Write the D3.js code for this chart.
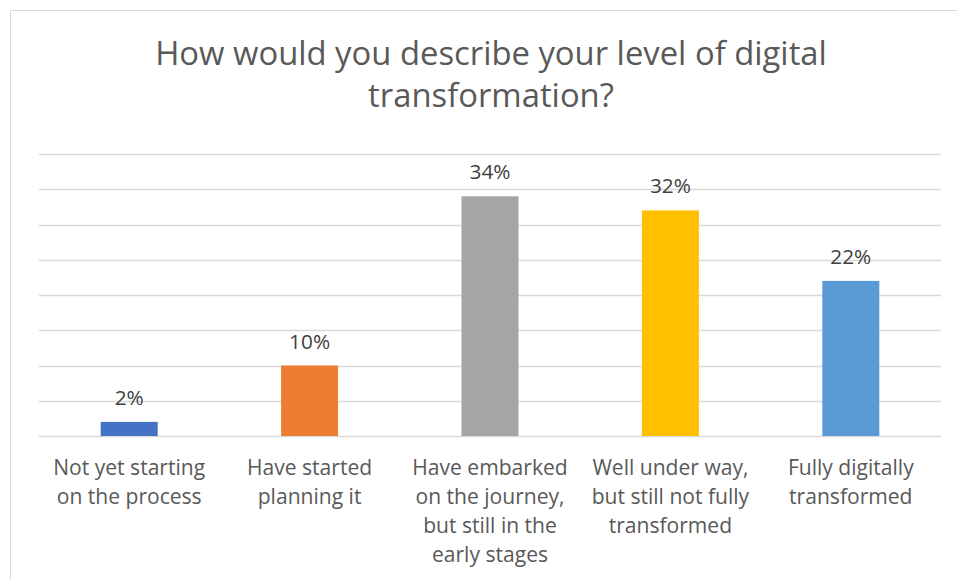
<!DOCTYPE html>
<html>
<head>
<meta charset="utf-8">
<script src="https://cdn.jsdelivr.net/npm/d3@7"></script>
<style>
  html, body { margin: 0; padding: 0; background: #fff; }
  svg { display: block; }
  text { font-family: "Open Sans", "Noto Sans", sans-serif; }
</style>
</head>
<body>
<svg id="chart" width="957" height="579"></svg>
<script>
// Survey responses: share of respondents per stage of digital transformation
const titleLines = ["How would you describe your level of digital", "transformation?"];
const categories = [
  ["Not yet starting", "on the process"],
  ["Have started", "planning it"],
  ["Have embarked", "on the journey,", "but still in the", "early stages"],
  ["Well under way,", "but still not fully", "transformed"],
  ["Fully digitally", "transformed"]
];
const values = [2, 10, 34, 32, 22];
const barColors = ["#4472C4", "#ED7D31", "#A5A5A5", "#FFC000", "#5B9BD5"];
const yTicks = [0, 5, 10, 15, 20, 25, 30, 35, 40];

const W = 957, H = 579;
const svg = d3.select("#chart");

// chart frame (runs past the right and bottom edges of the view)
svg.append("rect")
  .attr("x", 10.5).attr("y", 10.5)
  .attr("width", 1000).attr("height", 700)
  .attr("fill", "#fff").attr("stroke", "#d9d9d9").attr("stroke-width", 1);

const plot = { left: 39, right: 941, top: 154, bottom: 436 };

const x = d3.scaleBand()
  .domain(d3.range(values.length))
  .range([plot.left, plot.right])
  .paddingInner(0.684).paddingOuter(0.342);

const y = d3.scaleLinear().domain([0, 40]).range([plot.bottom, plot.top]);

// size a font so a reference string spans the wanted width
function fitSize(text, width, base) {
  const t = svg.append("text").attr("font-size", base).text(text);
  const w = t.node().getComputedTextLength();
  t.remove();
  return base * width / w;
}
const titleSize = fitSize(titleLines[0], 672, 30);
const catSize = fitSize(categories[0][0], 152, 19);
const valSize = fitSize("32%", 41, 19);

// gridlines
svg.append("g")
  .selectAll("line").data(yTicks).join("line")
  .attr("x1", plot.left).attr("x2", plot.right)
  .attr("y1", d => Math.round(y(d)) + 0.5).attr("y2", d => Math.round(y(d)) + 0.5)
  .attr("stroke", "#d9d9d9").attr("stroke-width", 1.4);

// bars
svg.append("g")
  .selectAll("rect").data(values).join("rect")
  .attr("x", (d, i) => x(i))
  .attr("width", x.bandwidth())
  .attr("y", d => y(d))
  .attr("height", d => y(0) - y(d))
  .attr("fill", (d, i) => barColors[i]);

// value labels
svg.append("g")
  .selectAll("text").data(values).join("text")
  .attr("x", (d, i) => x(i) + x.bandwidth() / 2)
  .attr("y", d => y(d) - 17)
  .attr("text-anchor", "middle")
  .attr("font-size", valSize)
  .attr("fill", "#404040")
  .text(d => d + "%");

// category labels
const catG = svg.append("g")
  .selectAll("text").data(categories).join("text")
  .attr("text-anchor", "middle")
  .attr("font-size", catSize)
  .attr("fill", "#595959");
catG.selectAll("tspan").data((d, i) => d.map(s => ({ s, i }))).join("tspan")
  .attr("x", d => x(d.i) + x.bandwidth() / 2)
  .attr("y", (d, j) => 475 + j * 29)
  .text(d => d.s);

// title
svg.append("text")
  .attr("text-anchor", "middle")
  .attr("font-size", titleSize)
  .attr("fill", "#595959")
  .selectAll("tspan").data(titleLines).join("tspan")
  .attr("x", 491)
  .attr("y", (d, i) => 65 + i * 42)
  .text(d => d);
</script>
</body>
</html>
